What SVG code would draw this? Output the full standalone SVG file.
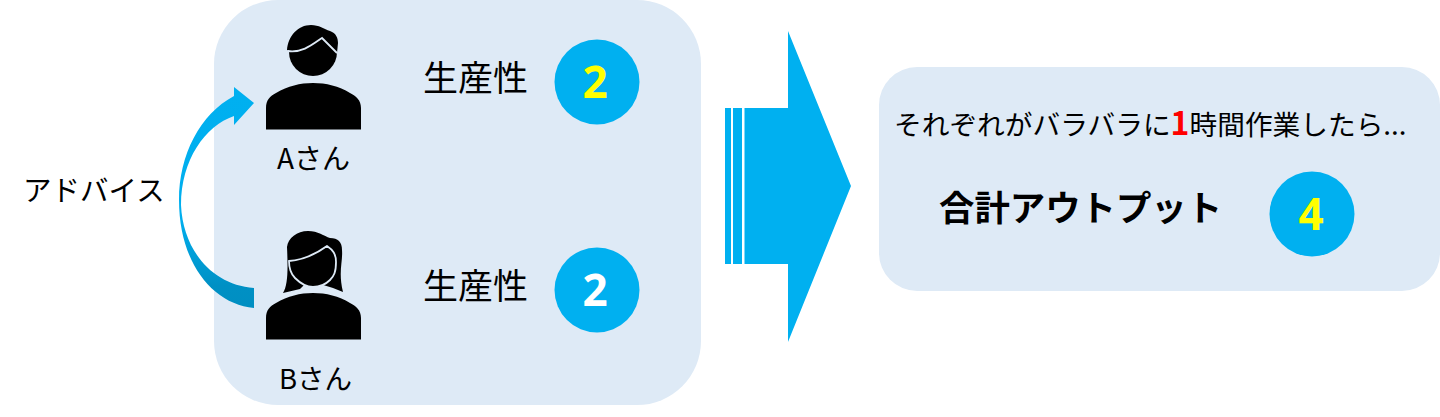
<svg xmlns="http://www.w3.org/2000/svg" width="1440" height="417" viewBox="0 0 1440 417">
<defs>
<linearGradient id="g" gradientUnits="userSpaceOnUse" x1="0" y1="87" x2="0" y2="308"><stop offset="0" stop-color="#00b0f0"/><stop offset="0.6" stop-color="#00aeee"/><stop offset="0.9" stop-color="#0090c4"/><stop offset="1" stop-color="#008fc2"/></linearGradient>
<path id="body" d="M266 129.500V108C266 100 270 96 276 93C288 86 300 83 313 83C326 83 339 86 350 93C356 96 361 100 361 108V129.500Z" fill="#000"/>
</defs>
<style>
text{font-family:"Noto Sans CJK JP","Noto Sans",sans-serif;fill:#000}
.l{font-size:28.500px}.p{font-size:35px}.n{font-size:44px;font-weight:700;font-family:"Noto Sans","Noto Sans CJK JP",sans-serif;text-anchor:middle}
.c{fill:#00b0f0}
</style>
<rect width="1440" height="417" fill="#fff"/>
<rect id="panel-left" x="214" y="0" width="487" height="405" rx="64" fill="#deeaf6"/>
<rect id="panel-right" x="879" y="67" width="561" height="224" rx="38" fill="#deeaf6"/>
<g id="connectors">
<path d="M254 308C212 304 179 262 179 200C179 155 200 114 234 96V87L254 103L234 125V116C205 126 181 160 181 205C183 250 212 285 254 288Z" fill="url(#g)"/>
<path class="c" d="M744.500 108H788V31L851 186L788 342V264H744.500Z"/>
<rect class="c" x="733" y="108" width="9" height="156"/>
<rect class="c" x="725" y="108" width="6" height="156"/>
</g>
<text id="advice" class="l" x="23" y="201">アドバイス</text>
<g id="person-a">
<circle cx="313" cy="52" r="24" fill="#000"/>
<path d="M287 50C288 36 298 25 311 25C319 25 324 29 330 31C336 33 338 38 338 43L337 53L322 38C313 44 302 53 287 50Z" fill="#000"/>
<path d="M288 51C303 53 313 44 322 38L337 53" fill="none" stroke="#deeaf6" stroke-width="1.800"/>
<use href="#body"/>
<text x="277" y="169" style="font-size:28px">Aさん</text>
</g>
<g id="person-b">
<path d="M283 293C288 285 288 270 287 247C288 238 297 231 308 231C318 231 324 236 330 238C338 238 342 242 342 250C343 262 338 272 343 292L333 288L320 284H305L300 289Z" fill="#000"/>
<path d="M289 261C303 260 316 254 327 246C333 250 336 254 336 262C336 272 334 276 330 280C325 285 319 287 313 287C306 287 300 283 295 278C291 274 289 270 289 261Z" fill="#000" stroke="#deeaf6" stroke-width="1.800"/>
<use href="#body" y="210"/>
<text x="279" y="389" style="font-size:27.500px">Bさん</text>
</g>
<g id="prod-a">
<text class="p" x="423" y="91">生産性</text>
<circle class="c" cx="597" cy="82" r="42.500"/>
<text class="n" x="595" y="98" style="fill:#ffff00">2</text>
</g>
<g id="prod-b">
<text class="p" x="423" y="299">生産性</text>
<circle class="c" cx="597" cy="290" r="42.500"/>
<text class="n" x="595" y="306" style="fill:#fff">2</text>
</g>
<g id="total">
<text x="894" y="135" style="font-size:27.700px">それぞれがバラバラに<tspan font-weight="700" style="fill:#ff0000;font-size:32px">1</tspan>時間作業したら...</text>
<text x="939" y="221" style="font-size:35.400px;font-weight:700">合計アウトプット</text>
<circle class="c" cx="1312" cy="214" r="42.500"/>
<text class="n" x="1311" y="230" style="fill:#ffff00">4</text>
</g>
</svg>
